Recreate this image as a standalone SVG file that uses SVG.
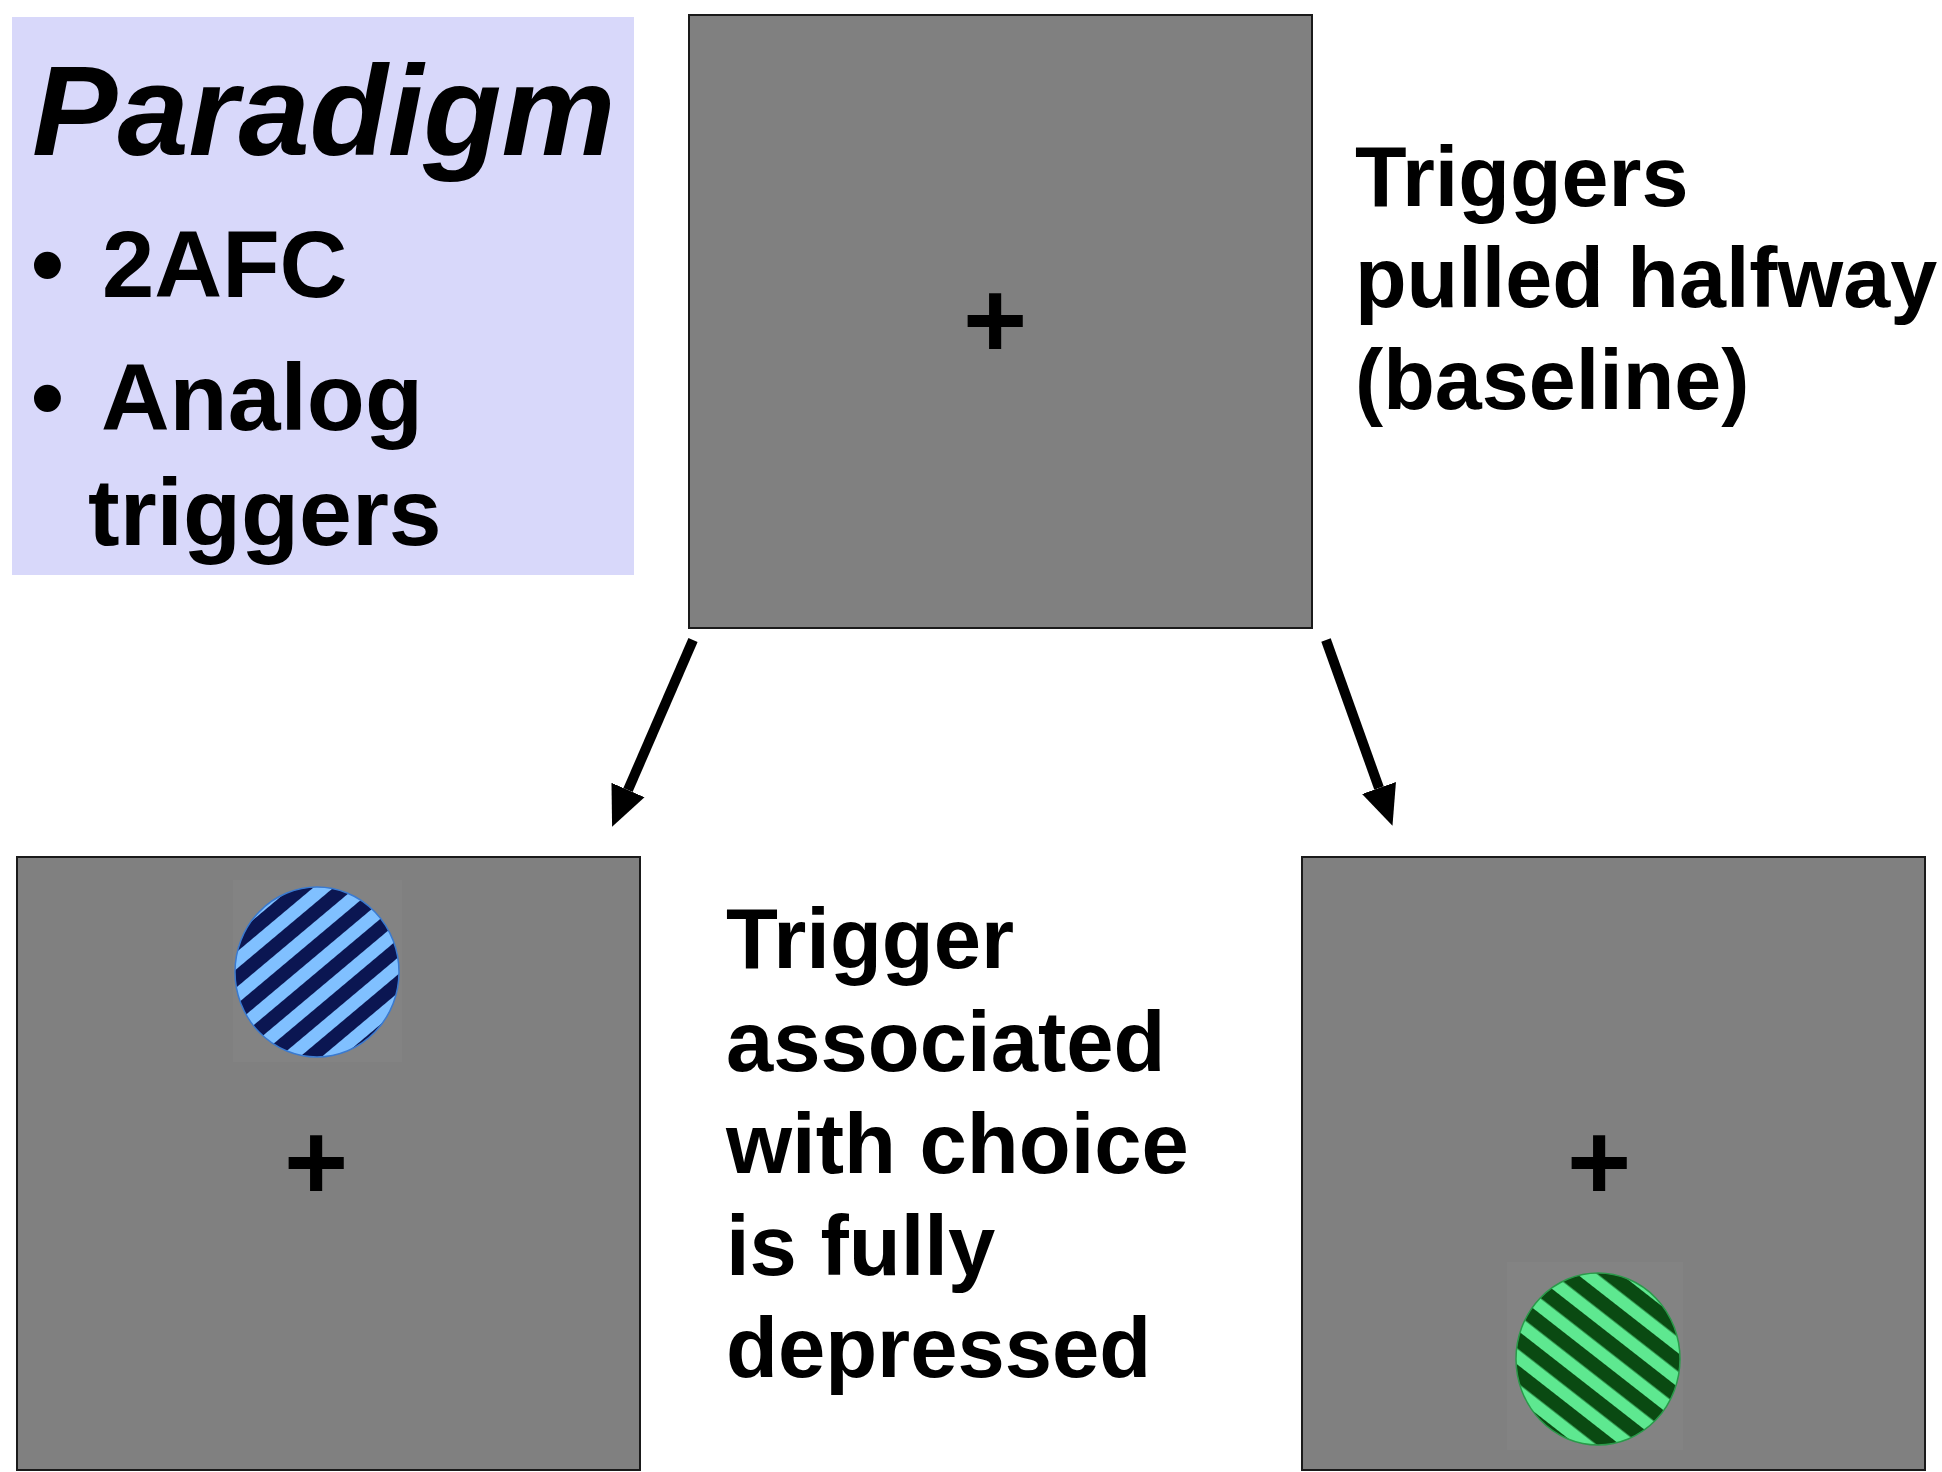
<svg xmlns="http://www.w3.org/2000/svg" width="1942" height="1472" viewBox="0 0 1942 1472">
<style>
.t{font-family:"Liberation Sans",Arial,sans-serif;font-weight:bold;fill:#000}
.scr{fill:#808080;stroke:#1a1a1a;stroke-width:2}
.fx{font-family:"Liberation Sans",Arial,sans-serif;font-weight:bold;font-size:110px;fill:#000;text-anchor:middle}
.arr{stroke:#000;stroke-width:10;fill:none}
</style>
<defs>
<marker id="ah" markerUnits="userSpaceOnUse" markerWidth="44" markerHeight="40" viewBox="0 -20 44 40" refX="0" refY="0" orient="auto">
<path d="M0,-18 L40,0 L0,18 z" fill="#000"/>
</marker>
<pattern id="pb" patternUnits="userSpaceOnUse" width="27" height="27" patternTransform="translate(317 972) rotate(-40)">
<rect width="27" height="27" fill="#80c0ff"/>
<rect width="27" height="14" fill="#0b1652"/>
</pattern>
<pattern id="pg" patternUnits="userSpaceOnUse" width="27" height="27" patternTransform="translate(1598 1359) rotate(38)">
<rect width="27" height="27" fill="#5ee890"/>
<rect width="27" height="14.5" fill="#0a4a12"/>
</pattern>
</defs>

<g id="paradigm-box">
<rect x="12" y="17" width="622" height="558" fill="#d8d8fa"/>
<text class="t" x="32" y="155" font-size="128" font-style="italic">Paradigm</text>
<text class="t" x="31" y="297" font-size="94">•</text>
<text class="t" x="102" y="297" font-size="94">2AFC</text>
<text class="t" x="31" y="430" font-size="94">•</text>
<text class="t" x="101" y="430" font-size="95">Analog</text>
<text class="t" x="88" y="545" font-size="95">triggers</text>
</g>

<g id="screen-baseline">
<rect class="scr" x="689" y="15" width="623" height="613"/>
<text class="fx" x="995" y="358">+</text>
</g>

<g id="label-baseline">
<text class="t" font-size="84.5"><tspan x="1355" y="206">Triggers</tspan><tspan x="1355" y="307">pulled halfway</tspan><tspan x="1355" y="409">(baseline)</tspan></text>
</g>

<g id="screen-left">
<rect class="scr" x="17" y="857" width="623" height="613"/>
<rect x="233" y="880" width="169" height="182" fill="#838383"/>
<ellipse cx="317" cy="972" rx="82" ry="85" fill="url(#pb)" stroke="#3a7ad0" stroke-width="1.5"/>
<text class="fx" x="316" y="1200">+</text>
</g>

<g id="label-choice">
<text class="t" font-size="85"><tspan x="726" y="968">Trigger</tspan><tspan x="726" y="1071">associated</tspan><tspan x="726" y="1173">with choice</tspan><tspan x="726" y="1275">is fully</tspan><tspan x="726" y="1377">depressed</tspan></text>
</g>

<g id="screen-right">
<rect class="scr" x="1302" y="857" width="623" height="613"/>
<rect x="1507" y="1262" width="176" height="188" fill="#838383"/>
<ellipse cx="1598" cy="1359" rx="82" ry="86" fill="url(#pg)" stroke="#2a9a4a" stroke-width="1.5"/>
<text class="fx" x="1599" y="1200">+</text>
</g>

<g id="connectors">
<line class="arr" x1="693" y1="640" x2="628" y2="790" marker-end="url(#ah)"/>
<line class="arr" x1="1326" y1="640" x2="1379" y2="788" marker-end="url(#ah)"/>
</g>
</svg>
